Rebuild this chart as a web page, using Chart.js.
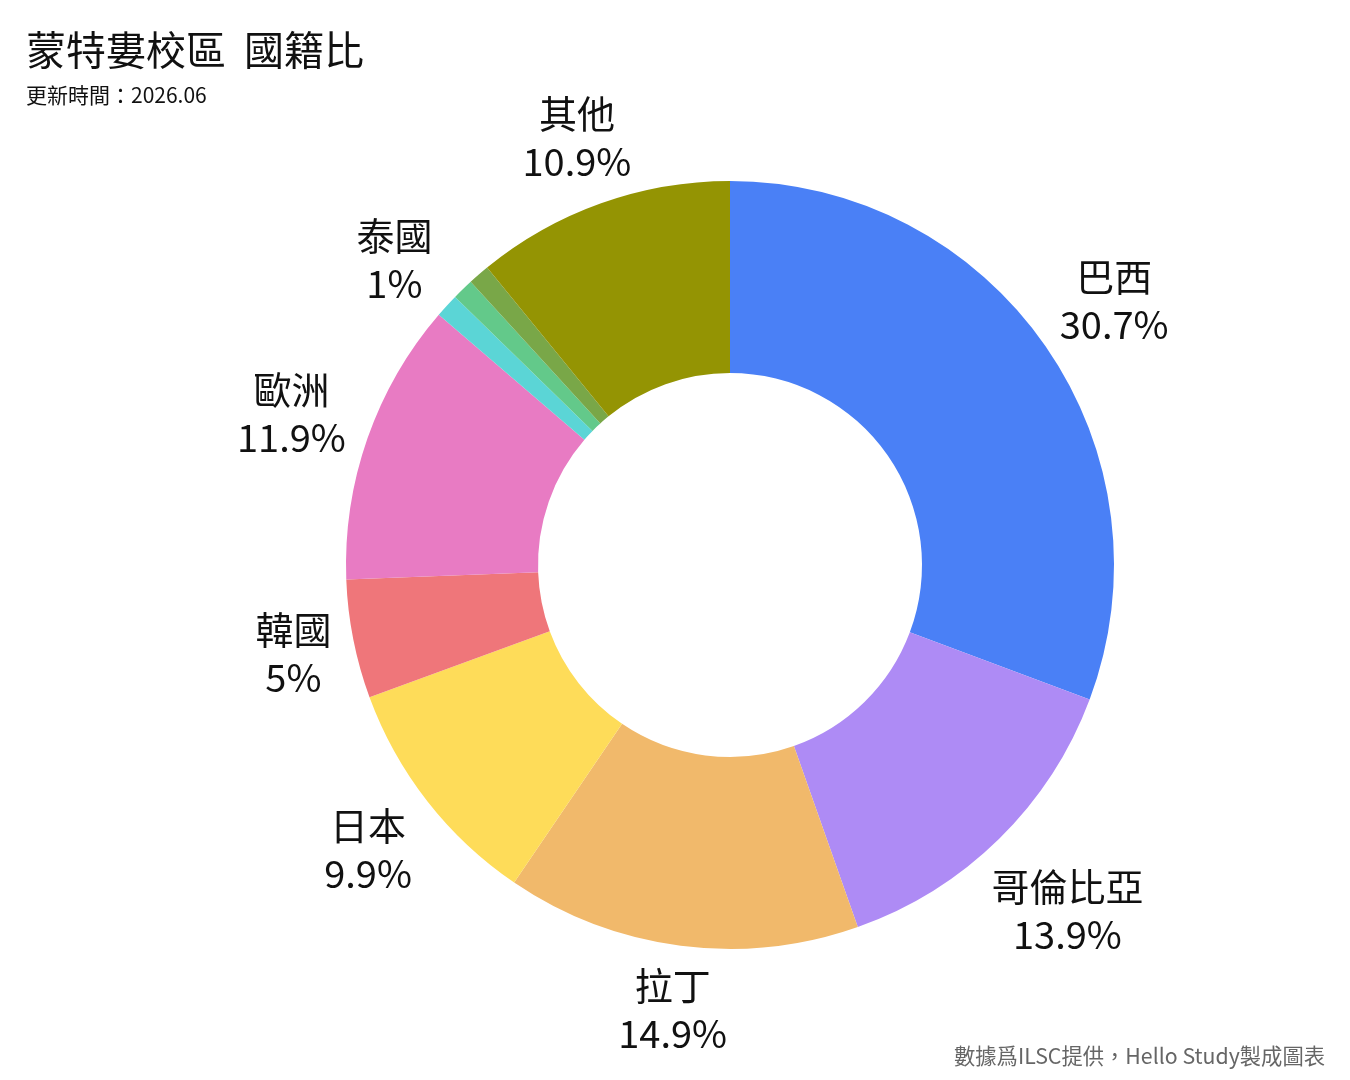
<!DOCTYPE html>
<html>
<head>
<meta charset="utf-8">
<script src="https://cdn.jsdelivr.net/npm/chart.js@4/dist/chart.umd.min.js"></script>
<style>
  html, body { margin: 0; padding: 0; background: #fff; }
  #wrap { position: relative; width: 1350px; height: 1080px; }
  .txt { position: absolute; font-family: "Noto Sans CJK TC", "Noto Sans", sans-serif; white-space: pre; }
  #title { left: 26px; top: 28px; font-size: 40px; color: #111; line-height: 1; }
  #sub { left: 26px; top: 84px; font-size: 21px; color: #111; line-height: 1; }
  #foot { right: 25px; top: 1044px; font-size: 21.3px; color: #666; line-height: 1; }
</style>
</head>
<body>
<div id="wrap">
  <canvas id="mycanvas1" width="1350" height="1080"></canvas>
  <div class="txt" id="title">蒙特婁校區  國籍比</div>
  <div class="txt" id="sub">更新時間：2026.06</div>
  <div class="txt" id="foot">數據爲ILSC提供，Hello Study製成圖表</div>
</div>
<script>
// nationality share (%), clockwise from the top
var countries = ["巴西", "哥倫比亞", "拉丁", "日本", "韓國", "歐洲", "泰國", "", "", "其他"];
var shares = [30.7, 13.9, 14.9, 9.9, 5, 11.9, 1, 0.9, 0.9, 10.9];
var colors = ["#4a80f6", "#ae8bf5", "#f1b96b", "#fedc59", "#ef767a",
              "#e87bc3", "#5bd5d6", "#63c98a", "#79a748", "#949403"];

var labelFont = '38px "Noto Sans CJK TC", "Noto Sans", sans-serif';

// draws name + percent outside each slice
var outsideLabels = {
  id: 'outsideLabels',
  afterDatasetsDraw: function(chart) {
    var ctx = chart.ctx;
    var meta = chart.getDatasetMeta(0);
    ctx.save();
    ctx.font = labelFont;
    ctx.fillStyle = '#111';
    ctx.textAlign = 'center';
    ctx.textBaseline = 'middle';
    meta.data.forEach(function(arc, i) {
      if (shares[i] < 1) return;
      var p = arc.getProps(['x', 'y', 'startAngle', 'endAngle', 'outerRadius'], true);
      var a = (p.startAngle + p.endAngle) / 2;
      var l1 = countries[i];
      var l2 = shares[i] + '%';
      var w = Math.max(ctx.measureText(l1).width, ctx.measureText(l2).width);
      var h = 80;
      var r = p.outerRadius + 16 + Math.abs(Math.cos(a)) * w / 2 + Math.abs(Math.sin(a)) * h / 2;
      var cx = p.x + Math.cos(a) * r;
      var cy = p.y + Math.sin(a) * r;
      ctx.fillText(l1, cx, cy - 22);
      ctx.fillText(l2, cx, cy + 26);
    });
    ctx.restore();
  }
};

var ctx = document.getElementById("mycanvas1").getContext("2d");
var myChart = new Chart(ctx, {
  type: 'doughnut',
  data: {
    labels: countries,
    datasets: [{
      data: shares,
      backgroundColor: colors,
      borderWidth: 0
    }]
  },
  options: {
    responsive: false,
    animation: false,
    cutout: '50%',
    layout: { padding: { left: 346, right: 236, top: 181, bottom: 131 } },
    plugins: {
      legend: { display: false },
      tooltip: { enabled: false }
    }
  },
  plugins: [outsideLabels]
});
</script>
</body>
</html>
